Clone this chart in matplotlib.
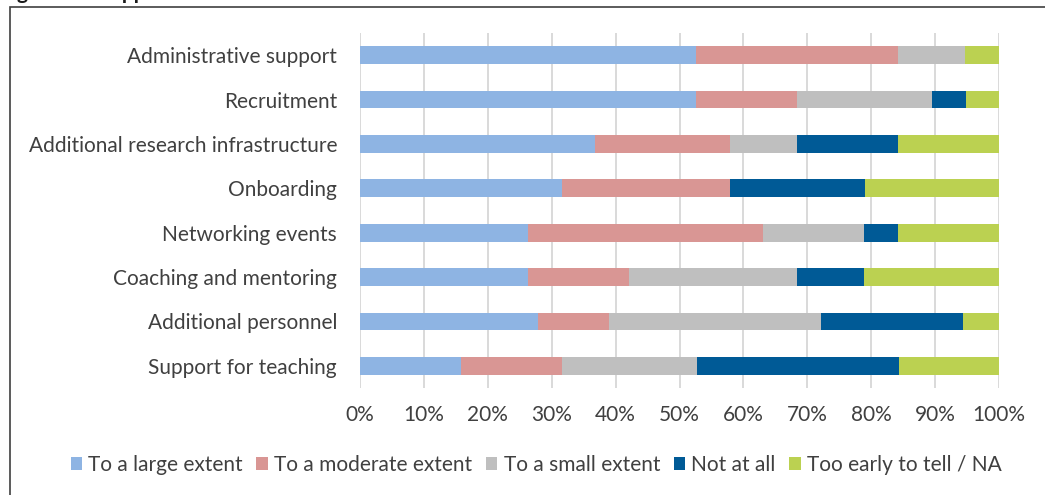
import matplotlib
matplotlib.use("Agg")
import matplotlib.pyplot as plt
from matplotlib.patches import Rectangle
import numpy as np

categories = [
    "Administrative support",
    "Recruitment",
    "Additional research infrastructure",
    "Onboarding",
    "Networking events",
    "Coaching and mentoring",
    "Additional personnel",
    "Support for teaching",
]
series_names = [
    "To a large extent",
    "To a moderate extent",
    "To a small extent",
    "Not at all",
    "Too early to tell / NA",
]
large = [52.6, 52.6, 36.8, 31.6, 26.3, 26.3, 27.8, 15.8]
moderate = [31.6, 15.8, 21.1, 26.3, 36.8, 15.8, 11.1, 15.8]
small = [10.5, 21.1, 10.5, 0.0, 15.8, 26.3, 33.3, 21.1]
not_at_all = [0.0, 5.3, 15.8, 21.1, 5.3, 10.5, 22.2, 31.6]
too_early = [5.3, 5.3, 15.8, 21.1, 15.8, 21.1, 5.6, 15.8]
tick_values = list(range(0, 101, 10))
tick_labels = [f"{v}%" for v in tick_values]
title = "Figure 10: Support"

colors = ["#8EB4E3", "#D99694", "#BFBFBF", "#005A96", "#BBD151"]
text_color = "#404040"
fs = 15

plt.rcParams["font.family"] = ["Lato", "DejaVu Sans"]

fig = plt.figure(figsize=(10.45, 4.95), dpi=100)
ax = fig.add_axes([360 / 1045, 1 - 388 / 495, 639 / 1045, 355 / 495])

series = [large, moderate, small, not_at_all, too_early]
y = np.arange(len(categories))
left = np.zeros(len(categories))
for vals, name, col in zip(series, series_names, colors):
    vals = np.array(vals)
    ax.barh(y, vals, left=left, height=0.4, color=col, label=name, zorder=3)
    left += vals

ax.set_xlim(0, 100)
ax.set_ylim(len(categories) - 0.5, -0.5)
ax.set_yticks(y)
ax.set_yticklabels(categories, fontsize=fs, color=text_color)
ax.set_xticks(tick_values)
ax.set_xticklabels(tick_labels, fontsize=fs, color=text_color)
ax.tick_params(axis="both", length=0)
ax.tick_params(axis="y", pad=16.5)
ax.tick_params(axis="x", pad=12)
ax.grid(axis="x", color="#D9D9D9", linewidth=1.4, zorder=0)
for s in ax.spines.values():
    s.set_visible(False)

leg = fig.legend(
    loc="center", bbox_to_anchor=(0.513, 1 - 465 / 495), ncol=5, frameon=False,
    fontsize=fs, handlelength=0.55, handleheight=0.55, handletextpad=0.3,
    columnspacing=0.65,
)
for t in leg.get_texts():
    t.set_color(text_color)

# heading sitting just above the framed chart area
fig.text(0.0, 1 + 1 / 495, title, fontsize=15, fontweight="bold",
         color="#1A1A1A", ha="left", va="baseline")

# frame around the chart area
fig.patches.append(Rectangle((10 / 1045, -0.1), 1.2, (1 - 7 / 495) + 0.1,
                             transform=fig.transFigure, fill=False,
                             edgecolor="#404040", linewidth=1.2))

fig.savefig("out.png", dpi=100)
